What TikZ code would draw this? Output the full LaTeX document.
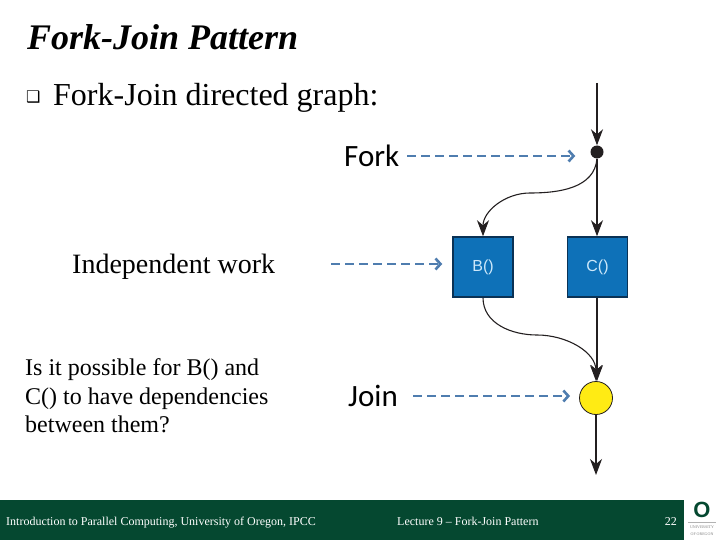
\documentclass[tikz,border=0pt]{standalone}
\usepackage{fontspec}
\setmainfont{Liberation Serif}
\newfontfamily\labelfont{Carlito}
\newfontfamily\boxfont{Liberation Sans}
\newfontfamily\symbfont{DejaVu Sans}
\usetikzlibrary{arrows.meta, positioning}
\definecolor{boxblue}{RGB}{14, 113, 184}
\definecolor{boxedge}{RGB}{10, 50, 85}
\definecolor{boxtext}{RGB}{205, 232, 250}
\definecolor{dashblue}{RGB}{79, 125, 175}
\definecolor{joinyellow}{RGB}{255, 235, 20}
\definecolor{inkblack}{RGB}{35, 31, 32}
\definecolor{oregongreen}{RGB}{5, 72, 48}

\begin{document}
\begin{tikzpicture}[
  x=1pt, y=-1pt,
  txt/.style={inner sep=0pt, anchor=west},
  taskbox/.style={rectangle, draw=boxedge, fill=boxblue, text=boxtext, font=\boxfont\fontsize{16}{16}\selectfont,
    minimum width=60pt, minimum height=60pt, inner sep=0pt, line width=1.5pt},
  arr/.style={-{Stealth[length=16pt, width=12pt, inset=5pt]}, inkblack, line width=1.1pt},
  dasharr/.style={-{Straight Barb[length=5pt, width=11pt]}, dashblue, line width=2.6pt, dash pattern=on 9pt off 5pt},
  foot/.style={inner sep=0pt, text=white, anchor=base west, font=\fontsize{12}{12}\selectfont}
]
\useasboundingbox (0,0) rectangle (720,540);

\node[txt, font=\bfseries\itshape\fontsize{36}{36}\selectfont] (title) at (27,37) {Fork-Join Pattern};
\node[txt, font=\symbfont\fontsize{16}{16}\selectfont] (bullet) at (26,97) {❑};
\node[txt, font=\fontsize{32}{32}\selectfont] (heading) at (53,98) {Fork-Join directed graph:};

\node[txt, font=\labelfont\fontsize{31}{31}\selectfont] (forklabel) at (344,156) {Fork};
\node[txt, text depth=0pt, font=\fontsize{28}{28}\selectfont] (indeplabel) at (72,264) {Independent work};
\node[txt, font=\labelfont\fontsize{31}{31}\selectfont] (joinlabel) at (348,396) {Join};
\node[txt, font=\fontsize{24}{28.5}\selectfont, align=left] (question) at (25,396)
  {Is it possible for B() and\\C() to have dependencies\\between them?};

\node[circle, fill=inkblack, minimum size=13pt, inner sep=0pt] (fork) at (597,152) {};
\node[taskbox] (boxb) at (483,267) {B()};
\node[taskbox, right=53pt of boxb] (boxc) {C()};
\node[circle, draw=inkblack, fill=joinyellow, minimum size=33pt, inner sep=0pt, line width=0.8pt] (join) at (596,398) {};

\coordinate (start) at (597,83);
\coordinate (finish) at (596,475);
\coordinate (forkmid) at (530,193);
\coordinate (joinmid) at (537,335);

\draw[arr] (start) -- (fork.north);
\draw[arr] (fork) -- (fork |- boxc.north);
\draw[arr] (fork.south) to[out=-95,in=0] (forkmid) to[out=180,in=90] (boxb.north);
\draw[arr] (boxc.south -| fork) -- (join.north -| fork);
\draw[arr] (boxb.south) to[out=-90,in=180] (joinmid) to[out=0,in=90] (join.north);
\draw[arr] (join) -- (finish);

\draw[dasharr, shorten <=8pt, shorten >=15pt] (forklabel.east) -- (forklabel.east -| fork.west);
\draw[dasharr, shorten <=56pt, shorten >=10pt] (indeplabel.east) -- (indeplabel.east -| boxb.west);
\draw[dasharr, shorten <=15pt, shorten >=9pt] (joinlabel.east) -- (joinlabel.east -| join.west);

% footer
\fill[oregongreen] (0,500) rectangle (684,540);
\node[foot] (footleft) at (6,525) {Introduction to Parallel Computing, University of Oregon, IPCC};
\node[foot] (footmid) at (397,525) {Lecture 9 -- Fork-Join Pattern};
\node[foot, anchor=base east] (pagenum) at (677,525) {22};

% logo
\node[inner sep=0pt, text=oregongreen, font=\boxfont\bfseries\fontsize{22}{22}\selectfont] (logo) at (702,510) {O};
\draw[gray!60, line width=0.4pt] (688,522) -- (716,522);
\node[inner sep=0pt, text=gray, align=center, font=\fontsize{4}{7}\selectfont] (univ) at (702,531) {UNIVERSITY\\OF OREGON};
\end{tikzpicture}
\end{document}
